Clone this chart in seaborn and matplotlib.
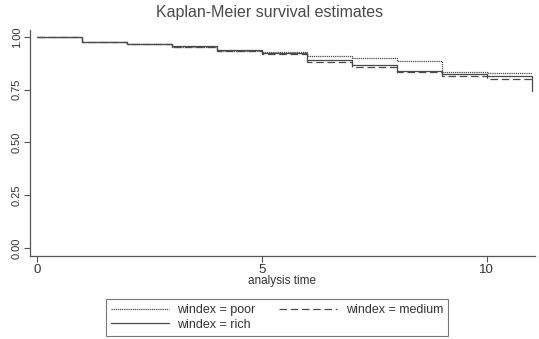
import matplotlib
matplotlib.use("Agg")
import matplotlib.pyplot as plt
import seaborn as sns
import pandas as pd

# Kaplan-Meier step estimates by wealth index group
times = [0, 1, 2, 3, 4, 5, 6, 7, 8, 9, 10, 11]
surv_poor = [1.0, 0.978, 0.967, 0.954, 0.934, 0.928, 0.911, 0.899, 0.887, 0.836, 0.828, 0.828]
surv_medium = [1.0, 0.975, 0.965, 0.952, 0.932, 0.921, 0.880, 0.860, 0.836, 0.815, 0.800, 0.800]
surv_rich = [1.0, 0.978, 0.967, 0.955, 0.936, 0.924, 0.890, 0.866, 0.841, 0.826, 0.817, 0.744]

groups = ["windex = poor", "windex = medium", "windex = rich"]
x_ticks = [0, 5, 10]
y_ticks = [0.0, 0.25, 0.5, 0.75, 1.0]
y_tick_labels = ["0.00", "0.25", "0.50", "0.75", "1.00"]

df = pd.concat([
    pd.DataFrame({"t": times, "s": surv_poor, "group": groups[0]}),
    pd.DataFrame({"t": times, "s": surv_medium, "group": groups[1]}),
    pd.DataFrame({"t": times, "s": surv_rich, "group": groups[2]}),
])

sns.set_style("white")
plt.rcParams["font.family"] = ["Liberation Sans", "DejaVu Sans"]

fig = plt.figure(figsize=(5.39, 3.39), dpi=100)
ax = fig.add_axes([30 / 539, 1 - 256 / 339, 505 / 539, 226 / 339])

line_col = "#4a4a4a"
styles = {
    groups[0]: dict(linestyle=(0, (1.0, 0.7)), linewidth=0.9),
    groups[1]: dict(linestyle=(0, (6, 3)), linewidth=0.9),
    groups[2]: dict(linestyle="-", linewidth=0.9),
}
handles = {}
for g in groups:
    sub = df[df["group"] == g]
    sns.lineplot(data=sub, x="t", y="s", ax=ax, drawstyle="steps-post",
                 color=line_col, estimator=None, label=g, legend=False, **styles[g])
    handles[g] = ax.lines[-1]

ax.set_xlim(-0.156, 11.07)
ax.set_ylim(-0.038, 1.033)
ax.set_xticks(x_ticks)
ax.set_xticklabels([str(v) for v in x_ticks], fontsize=9.5, color="#333333")
ax.set_yticks(y_ticks)
ax.set_yticklabels(y_tick_labels, fontsize=8, color="#333333", rotation=90, va="center")
ax.tick_params(axis="both", direction="out", length=4, width=0.8, color="#555555",
               bottom=True, left=True, pad=2)
for side in ["top", "right"]:
    ax.spines[side].set_visible(False)
for side in ["left", "bottom"]:
    ax.spines[side].set_color("#555555")
    ax.spines[side].set_linewidth(0.9)

ax.set_xlabel("analysis time", fontsize=8.5, color="#333333", labelpad=-1)
ax.set_ylabel("")
fig.text(0.5, 1 - 13 / 339, "Kaplan-Meier survival estimates", ha="center", va="center",
         fontsize=11.5, color="#4a4a4a")

leg = fig.legend([handles[groups[0]], handles[groups[2]], handles[groups[1]]],
                 [groups[0], groups[2], groups[1]],
                 ncol=2, loc="lower center", bbox_to_anchor=(277 / 539, 1 / 339),
                 fontsize=9, frameon=True, fancybox=False, edgecolor="#555555",
                 handlelength=4.6, handletextpad=0.7, columnspacing=1.9,
                 borderpad=0.4, borderaxespad=0.2, labelspacing=0.2)
leg.get_frame().set_linewidth(0.8)
for t in leg.get_texts():
    t.set_color("#333333")

fig.savefig("out.png", dpi=100, facecolor="white")
